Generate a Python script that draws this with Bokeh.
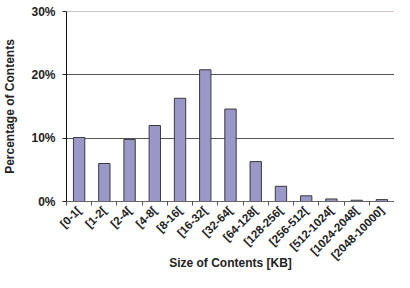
import math
from bokeh.plotting import figure
from bokeh.models import FixedTicker, PrintfTickFormatter, Span, Range1d
from bokeh.embed import file_html
from bokeh.resources import INLINE

categories = ["[0-1[", "[1-2[", "[2-4[", "[4-8[", "[8-16[", "[16-32[", "[32-64[",
              "[64-128[", "[128-256[", "[256-512[", "[512-1024[", "[1024-2048[",
              "[2048-10000]"]
percentages = [10.1, 6.0, 9.8, 12.0, 16.3, 20.8, 14.6, 6.3, 2.4, 0.9, 0.4, 0.2, 0.3]
y_ticks = [0, 10, 20, 30]

n = len(categories)
xs = list(range(n))

p = figure(width=394, height=272, output_backend="svg", toolbar_location=None,
           x_range=Range1d(-0.5, n - 0.5), y_range=Range1d(0, 30),
           min_border_left=57, min_border_right=0, min_border_top=11,
           min_border_bottom=0)
p.outline_line_color = None
p.background_fill_color = "white"
p.border_fill_color = "white"

p.vbar(x=xs, top=percentages, width=0.45, bottom=0,
       fill_color="#9b97c9", line_color="#3a3a3a", line_width=1)

# grid
p.xgrid.visible = False
p.ygrid.ticker = FixedTicker(ticks=[10, 20])
p.ygrid.grid_line_color = "#555555"
p.ygrid.grid_line_width = 1
top_line = Span(location=30, dimension="width", line_color="#9c8484", line_width=1)
p.add_layout(top_line)

font = "Liberation Sans"

# x axis
xa = p.xaxis[0]
xa.ticker = FixedTicker(ticks=xs, minor_ticks=[i - 0.5 for i in range(n + 1)])
xa.major_label_overrides = {i: c for i, c in zip(xs, categories)}
xa.major_tick_line_color = None
xa.major_tick_out = 4
xa.minor_tick_in = 0
xa.minor_tick_out = 4
xa.minor_tick_line_color = "#555555"
xa.axis_line_color = "#666666"
xa.major_label_orientation = math.pi / 4
xa.major_label_text_font = font
xa.major_label_text_font_style = "bold"
xa.major_label_text_font_size = "11.5px"
xa.major_label_text_color = "#222222"
xa.major_label_standoff = 3
xa.axis_label = "Size of Contents [KB]"
xa.axis_label_text_font = font
xa.axis_label_text_font_style = "bold"
xa.axis_label_text_font_size = "12px"
xa.axis_label_text_color = "#222222"
xa.axis_label_standoff = -13

# y axis
ya = p.yaxis[0]
ya.ticker = FixedTicker(ticks=y_ticks)
ya.formatter = PrintfTickFormatter(format="%d%%")
ya.minor_tick_line_color = None
ya.major_tick_in = 0
ya.major_tick_out = 4
ya.major_tick_line_color = "#222222"
ya.axis_line_color = "#111111"
ya.major_label_text_font = font
ya.major_label_text_font_style = "bold"
ya.major_label_text_font_size = "12px"
ya.major_label_text_color = "#222222"
ya.major_label_standoff = 7
ya.axis_label = "Percentage of Contents"
ya.axis_label_text_font = font
ya.axis_label_text_font_style = "bold"
ya.axis_label_text_font_size = "12px"
ya.axis_label_text_color = "#222222"
ya.axis_label_standoff = 11

open("out.html", "w").write(file_html(p, INLINE))
